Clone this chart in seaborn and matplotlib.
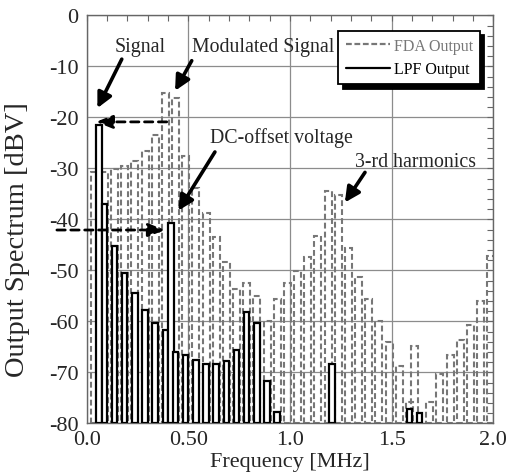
import numpy as np
import pandas as pd
import matplotlib
matplotlib.use("Agg")
import matplotlib.pyplot as plt
import seaborn as sns
from matplotlib.lines import Line2D
from matplotlib.ticker import MultipleLocator, FixedLocator, FixedFormatter

# ---------------- data ----------------
fda_freq = [0.0375, 0.0875, 0.1375, 0.1875, 0.2375, 0.2875, 0.3375, 0.3875, 0.4375, 0.4875,
            0.5375, 0.5875, 0.6375, 0.6875, 0.7375, 0.7875, 0.8375, 0.8875, 0.9375, 0.9875,
            1.0375, 1.0875, 1.1375, 1.1875, 1.2375, 1.2875, 1.3375, 1.3875, 1.4375, 1.4875,
            1.5375, 1.5875, 1.6125, 1.6875, 1.7375, 1.7875, 1.8375, 1.8875, 1.9375, 1.9875]
fda_dbv = [-30.7, -30.7, -30.1, -29.5, -28.5, -26.7, -23.4, -15.2, -16.2, -27.6,
           -33.9, -38.7, -43.4, -48.3, -53.7, -52.4, -55.0, -59.9, -55.6, -52.5,
           -50.2, -47.3, -43.2, -34.4, -35.2, -45.7, -51.4, -55.7, -59.9, -64.0,
           -68.7, -75.9, -64.8, -75.8, -70.4, -66.7, -63.7, -60.7, -56.1, -47.1]

lpf_freq = [0.062, 0.0875, 0.1375, 0.1875, 0.2375, 0.2875, 0.3375, 0.3875, 0.414, 0.4375,
            0.4875, 0.5375, 0.5875, 0.6375, 0.6875, 0.7375, 0.7875, 0.8375, 0.8875, 0.9375,
            1.207, 1.5875, 1.6375]
lpf_dbv = [-21.5, -37.0, -45.2, -50.6, -54.5, -57.8, -60.4, -61.8, -40.7, -66.0,
           -66.7, -67.6, -68.3, -68.4, -67.7, -65.6, -58.1, -60.4, -71.8, -77.8,
           -68.3, -77.1, -78.0]

series_labels = ["FDA Output", "LPF Output"]
x_ticks = [0.0, 0.5, 1.0, 1.5, 2.0]
x_ticklabels = ["0.0", "0.50", "1.0", "1.5", "2.0"]
y_ticks = [0, -10, -20, -30, -40, -50, -60, -70, -80]
y_ticklabels = ["0", "-10", "-20", "-30", "-40", "-50", "-60", "-70", "-80"]
Y_MIN, Y_MAX = -80, 0
X_MIN, X_MAX = 0.0, 2.0

FDA_W = 0.034   # bar width in MHz
LPF_W = 0.027

# ---------------- style ----------------
sns.set_style("white")
plt.rcParams['font.family'] = ['Liberation Serif', 'DejaVu Serif']
plt.rcParams['axes.unicode_minus'] = False

FDA_COLOR = "#777777"
GRID_COLOR = "#8c8c8c"
SPINE_COLOR = "#666666"

W, H = 515, 477
fig = plt.figure(figsize=(W / 100, H / 100), dpi=100)
L, R, T, B = 86.6, 493.3, 16.3, 424.3
ax = fig.add_axes([L / W, 1 - B / H, (R - L) / W, (B - T) / H])

fda = pd.DataFrame({"freq": fda_freq, "dbv": fda_dbv})
lpf = pd.DataFrame({"freq": lpf_freq, "dbv": lpf_dbv})
fda["height"] = fda["dbv"] - Y_MIN
lpf["height"] = lpf["dbv"] - Y_MIN


def native_unit(values):
    return float(np.min(np.diff(np.unique(values))))


sns.barplot(data=fda, x="freq", y="height", native_scale=True,
            width=FDA_W / native_unit(fda_freq), fill=False, color=FDA_COLOR,
            errorbar=None, ax=ax, bottom=Y_MIN, linewidth=1.5,
            linestyle=(0, (2.8, 1.5)), zorder=2)
sns.barplot(data=lpf, x="freq", y="height", native_scale=True,
            width=LPF_W / native_unit(lpf_freq), fill=True, color="white",
            errorbar=None, ax=ax, bottom=Y_MIN, linewidth=1.6,
            edgecolor="black", zorder=3)

ax.set_xlim(X_MIN, X_MAX)
ax.set_ylim(Y_MIN, Y_MAX)

ax.xaxis.set_major_locator(FixedLocator(x_ticks))
ax.xaxis.set_major_formatter(FixedFormatter(x_ticklabels))
ax.yaxis.set_major_locator(FixedLocator(y_ticks))
ax.yaxis.set_major_formatter(FixedFormatter(y_ticklabels))
ax.xaxis.set_minor_locator(MultipleLocator(0.1))
ax.yaxis.set_minor_locator(MultipleLocator(2))

ax.set_axisbelow(True)
ax.grid(True, which="major", color=GRID_COLOR, linewidth=0.9)
ax.tick_params(which="both", direction="in", top=True, right=True,
               color=SPINE_COLOR, length=4, width=0.8)
ax.tick_params(axis="both", which="major", labelsize=16)
ax.tick_params(axis="y", which="major", pad=6)
ax.tick_params(axis="x", which="major", pad=5)
for s in ax.spines.values():
    s.set_color(SPINE_COLOR)
    s.set_linewidth(1.0)

ax.set_xlabel("Frequency [MHz]", fontsize=16, labelpad=2)
ax.set_ylabel("Output Spectrum [dBV]", fontsize=20.5)
ax.yaxis.set_label_coords(-0.14, 0.452)

# ---------------- annotations ----------------
arrow_kw = dict(arrowstyle="-|>,head_length=0.9,head_width=0.45", color="black",
                lw=2.6, shrinkA=0, shrinkB=0)
ann_fs = 14.3
ax.annotate("", xy=(0.053, -18.2), xytext=(0.173, -8.6), arrowprops=arrow_kw)
ax.text(0.140, -6.2, "Signal", fontsize=ann_fs, ha="left", va="center")
ax.annotate("", xy=(0.435, -14.8), xytext=(0.517, -8.9), arrowprops=arrow_kw)
ax.text(0.519, -6.2, "Modulated Signal", fontsize=ann_fs, ha="left", va="center")
ax.annotate("", xy=(0.451, -38.3), xytext=(0.631, -26.8), arrowprops=arrow_kw)
ax.text(0.607, -23.9, "DC-offset voltage", fontsize=ann_fs, ha="left", va="center")
ax.annotate("", xy=(1.270, -36.7), xytext=(1.369, -30.8), arrowprops=arrow_kw)
ax.text(1.319, -28.7, "3-rd harmonics", fontsize=ann_fs, ha="left", va="center")

dash_kw = dict(arrowstyle="-|>,head_length=1.0,head_width=0.4", color="black",
               lw=2.0, linestyle=(0, (3, 2)), shrinkA=0, shrinkB=0)
ax.annotate("", xy=(0.046, -20.9), xytext=(0.394, -20.9), arrowprops=dash_kw,
            annotation_clip=False)
ax.annotate("", xy=(0.385, -42.1), xytext=(-0.146, -42.1), arrowprops=dash_kw,
            annotation_clip=False)

# ---------------- legend ----------------
handles = [Line2D([], [], color=FDA_COLOR, lw=1.6, linestyle=(0, (2.6, 1.2))),
           Line2D([], [], color="black", lw=1.6)]
leg = ax.legend(handles=handles, labels=series_labels, loc="upper right",
                bbox_to_anchor=(0.967, 0.962), borderaxespad=0, fontsize=11.5,
                frameon=True, fancybox=False, handlelength=2.8, handletextpad=0.2,
                borderpad=0.45, labelspacing=0.45,
                shadow={"ox": 3, "oy": -3, "shade": 1.0, "alpha": 1.0})
leg.get_frame().set_edgecolor("black")
leg.get_frame().set_linewidth(1.3)
leg.get_texts()[0].set_color(FDA_COLOR)
leg.get_texts()[1].set_color("black")

fig.savefig("out.png", dpi=100)
